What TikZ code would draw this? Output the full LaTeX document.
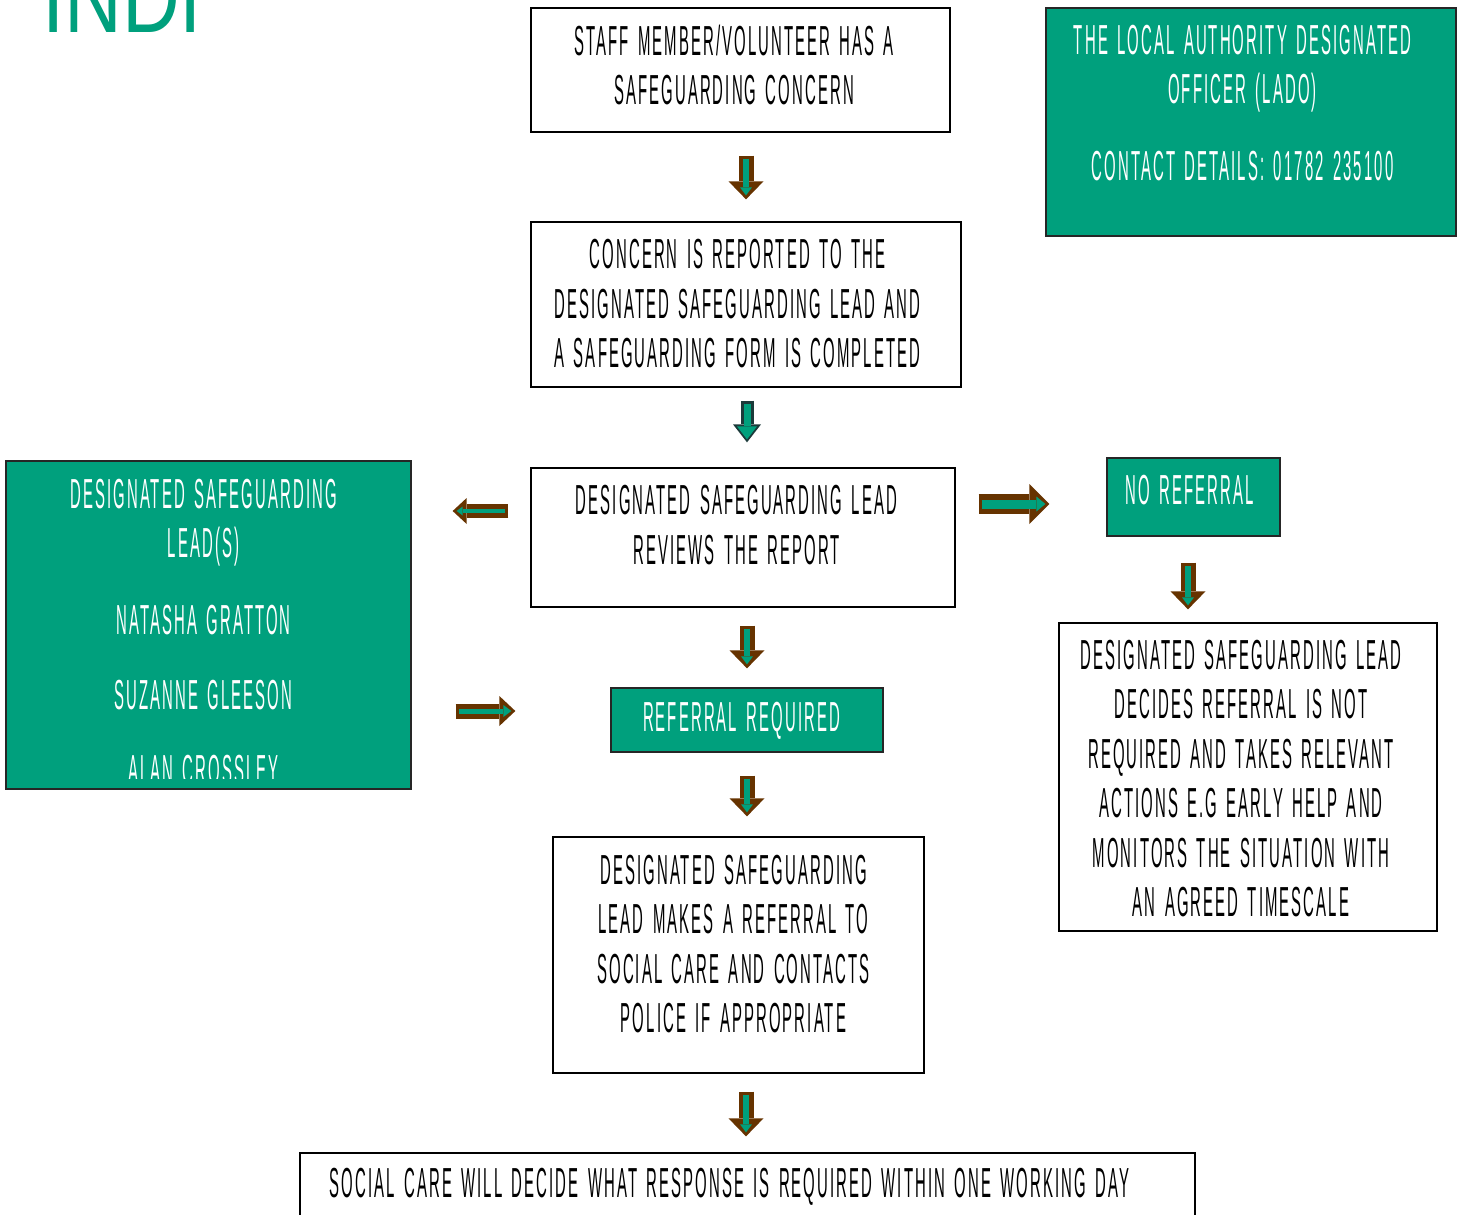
\documentclass[tikz,border=0pt]{standalone}
\usepackage{fontspec}
\newfontfamily\flowfont[FakeStretch=0.355,LetterSpace=5,WordSpace=1.5]{Liberation Sans}
\newfontfamily\logofont[FakeStretch=0.8]{Liberation Sans}
\usetikzlibrary{arrows.meta,calc}

\definecolor{indigreen}{RGB}{0,160,125}
\definecolor{arrowbrown}{RGB}{102,51,0}
\definecolor{arrowdark}{RGB}{28,58,58}

\tikzset{
  stepbox/.style={draw=black, line width=1.3pt, fill=white, inner sep=0pt},
  greenbox/.style={stepbox, draw=black!85, fill=indigreen},
  boxtext/.style={align=center, inner sep=0pt, text=black,
    font=\flowfont\fontsize{42}{49.5}\selectfont},
  whitetext/.style={boxtext, text=white},
  arrowout/.style={draw=arrowbrown, line width=15pt,
    -{Triangle[width=35pt,length=18pt,line width=0pt]}},
  arrowin/.style={draw=indigreen, line width=6pt, shorten <=3pt, shorten >=4pt,
    -{Triangle[width=12pt,length=8pt,line width=0pt]}},
}
% block arrow: outer options, inner options, from, to
\newcommand{\flowarrow}[4][]{%
  \draw[arrowout,#1] #3 -- #4;
  \draw[arrowin,#2] #3 -- #4;}

\begin{document}
\begin{tikzpicture}[x=1pt,y=-1pt]
  \clip (0,0) rectangle (1464,1215);

  % logo
  \node[anchor=base, text=indigreen, inner sep=0pt,
    font=\logofont\fontsize{100}{100}\selectfont] (logo) at (122,33) {INDI};

  % boxes
  \node[stepbox, minimum width=419, minimum height=124] (staff) at (740.5,70) {};
  \node[stepbox, minimum width=430, minimum height=165] (concern) at (746,304.5) {};
  \node[stepbox, minimum width=424, minimum height=139] (review) at (743,537.5) {};
  \node[greenbox, minimum width=272, minimum height=64] (required) at (747,720) {};
  \node[stepbox, minimum width=371, minimum height=236] (makes) at (738.5,955) {};
  \node[stepbox, minimum width=895, minimum height=70] (social) at (747.5,1188) {};
  \node[greenbox, minimum width=410, minimum height=228] (lado) at (1251,122) {};
  \node[greenbox, minimum width=405, minimum height=328] (leads) at (208.5,625) {};
  \node[greenbox, minimum width=173, minimum height=78] (noref) at (1193.5,497) {};
  \node[stepbox, minimum width=378, minimum height=308] (decides) at (1248,777) {};

  % texts
  \node[boxtext] (staff-t) at (734,65) {STAFF MEMBER/VOLUNTEER HAS A\\SAFEGUARDING CONCERN};
  \node[boxtext] (concern-t) at (737.5,304) {CONCERN IS REPORTED TO THE\\DESIGNATED SAFEGUARDING LEAD AND\\A SAFEGUARDING FORM IS COMPLETED};
  \node[boxtext] (review-t) at (736.5,525) {DESIGNATED SAFEGUARDING LEAD\\REVIEWS THE REPORT};
  \node[whitetext] (required-t) at (741.5,721) {REFERRAL REQUIRED};
  \node[boxtext] (makes-t) at (733.5,944) {DESIGNATED SAFEGUARDING\\LEAD MAKES A REFERRAL TO\\SOCIAL CARE AND CONTACTS\\POLICE IF APPROPRIATE};
  \node[boxtext] (social-t) at (729.5,1187) {SOCIAL CARE WILL DECIDE WHAT RESPONSE IS REQUIRED WITHIN ONE WORKING DAY};
  \node[whitetext] (lado-t) at (1242.5,103) {THE LOCAL AUTHORITY DESIGNATED\\OFFICER (LADO)\\[27.5pt]CONTACT DETAILS: 01782 235100};
  \begin{scope}
    \clip (6,461) rectangle (411,778);
    \node[whitetext] (leads-t) at (203.5,632) {DESIGNATED SAFEGUARDING\\LEAD(S)\\[27pt]NATASHA GRATTON\\[25.5pt]SUZANNE GLEESON\\[25.5pt]ALAN CROSSLEY};
  \end{scope}
  \node[whitetext] (noref-t) at (1190,490) {NO REFERRAL};
  \node[boxtext] (decides-t) at (1241,778.5) {DESIGNATED SAFEGUARDING LEAD\\DECIDES REFERRAL IS NOT\\REQUIRED AND TAKES RELEVANT\\ACTIONS E.G EARLY HELP AND\\MONITORS THE SITUATION WITH\\AN AGREED TIMESCALE};

  % arrows
  \flowarrow{}{($(staff.south -| concern.north)+(0,23)$)}{($(concern.north)+(0,-22)$)}
  \flowarrow[draw=arrowdark, line width=13pt,
    -{Triangle[width=28pt,length=18pt,line width=0pt]}]%
    {line width=7pt, shorten >=3pt, -{Triangle[width=20pt,length=13pt,line width=0pt]}}%
    {($(concern.south)+(1,13)$)}{($(review.north -| concern.south)+(1,-25)$)}
  \flowarrow[line width=14pt, line join=round,
    -{Triangle[width=26pt,length=14pt,line width=0pt]}]%
    {line width=4pt, -{Triangle[width=9pt,length=6pt,line width=0pt]}}%
    {($(review.west)+(-22,-26.5)$)}{($(review.west -| leads.east)+(41,-26.5)$)}
  \flowarrow[line width=20pt, -{Triangle[width=40pt,length=20pt,line width=0pt]}]%
    {line width=9pt, -{Triangle[width=15pt,length=9pt,line width=0pt]}}%
    {($(review.east)+(23,-33.5)$)}{($(review.east -| noref.west)+(-57,-33.5)$)}
  \flowarrow{}{($(review.south -| required.north)+(0,18)$)}{($(required.north)+(0,-19)$)}
  \flowarrow[-{Triangle[width=30pt,length=16pt,line width=0pt]}]%
    {line width=5pt}%
    {($(leads.east)+(44,86)$)}{($(leads.east -| required.west)+(-95,86)$)}
  \flowarrow{}{($(required.south)+(0,23)$)}{($(makes.north -| required.south)+(0,-20)$)}
  \flowarrow{}{($(noref.south)+(-5.5,26)$)}{($(decides.north -| noref.south)+(-5.5,-13)$)}
  \flowarrow{}{($(makes.south)+(7.5,18)$)}{($(social.north -| makes.south)+(7.5,-16)$)}
\end{tikzpicture}
\end{document}
